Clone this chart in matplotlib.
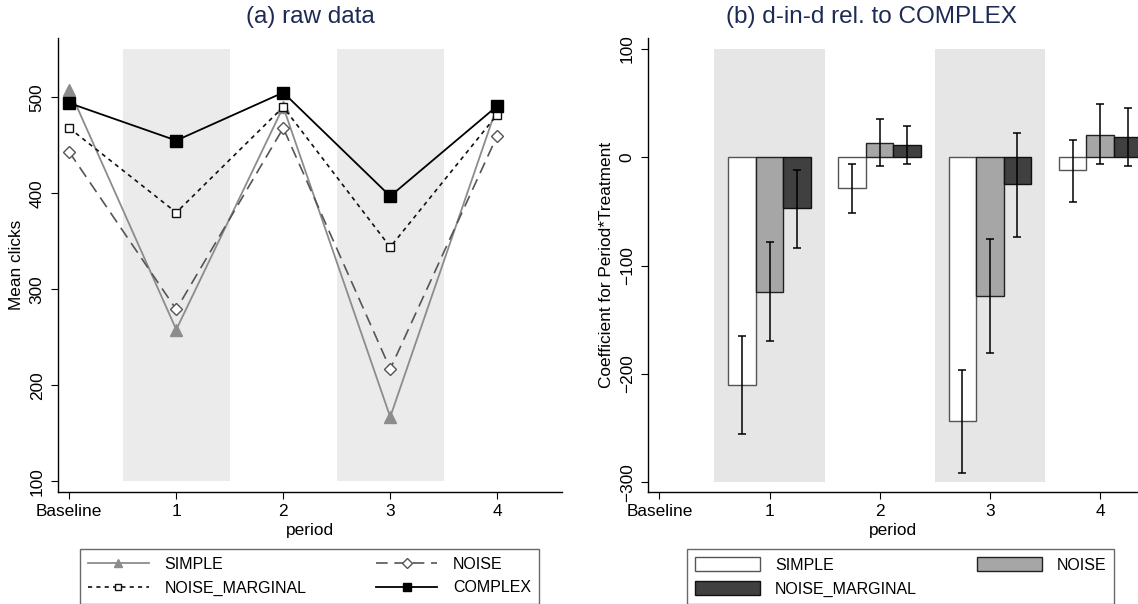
import numpy as np
import matplotlib
matplotlib.use("Agg")
import matplotlib.pyplot as plt

plt.rcParams['font.family'] = ['Liberation Sans', 'DejaVu Sans']

# x positions: 0 = Baseline, 1..4 = periods
periods = [0, 1, 2, 3, 4]
tick_labels = ['Baseline', '1', '2', '3', '4']
shade_periods = [1, 3]

# (a) raw data: mean clicks per period
simple_raw = [508, 258, 490, 167, 491]
noise_raw = [443, 279, 468, 217, 460]
noise_marg_raw = [468, 380, 490, 344, 482]
complex_raw = [494, 455, 505, 397, 491]

# (b) diff-in-diff coefficients relative to COMPLEX (periods 1..4)
dd_periods = [1, 2, 3, 4]
simple_coef = [-210, -28, -243, -12]
simple_lo = [-255, -51, -291, -41]
simple_hi = [-165, -6, -196, 16]
noise_coef = [-124, 13, -128, 21]
noise_lo = [-170, -8, -181, -6]
noise_hi = [-78, 35, -75, 49]
nm_coef = [-47, 11, -25, 18.5]
nm_lo = [-84, -6.5, -73.5, -7.7]
nm_hi = [-12, 29, 22.5, 46]

title_col = '#1c2a55'
fs = 12.4

fig = plt.figure(figsize=(11.38, 6.04), dpi=100)
ax1 = fig.add_axes([0.0512, 0.1849, 0.4426, 0.7517])
ax2 = fig.add_axes([0.5697, 0.1849, 0.4303, 0.7517])

for ax in (ax1, ax2):
    ax.spines['top'].set_visible(False)
    ax.spines['right'].set_visible(False)
    ax.spines['left'].set_linewidth(1.0)
    ax.spines['bottom'].set_linewidth(1.0)
    ax.tick_params(direction='out', length=4.8, width=0.8, labelsize=fs)
    ax.tick_params(axis='y', labelrotation=90, pad=5)
    ax.set_xticks(periods)
    ax.set_xticklabels(tick_labels)
    ax.set_xlabel('period', fontsize=fs, labelpad=3)

# ---- (a) raw data ----
ax1.bar(shade_periods, 450, bottom=100, width=1.0, color='#ebebeb', zorder=0)
ax1.plot(periods, simple_raw, color='#8c8c8c', lw=1.3, marker='^', ms=8,
         mfc='#8c8c8c', mec='#8c8c8c', label='SIMPLE', zorder=3)
ax1.plot(periods, noise_raw, color='#555555', lw=1.2, ls=(0, (7, 4)), marker='D', ms=6.5,
         mfc='white', mec='#555555', mew=1.0, label='NOISE', zorder=3)
ax1.plot(periods, noise_marg_raw, color='#111111', lw=1.2, ls=(0, (2.5, 2.5)), marker='s', ms=6,
         mfc='white', mec='#111111', mew=1.0, label='NOISE_MARGINAL', zorder=3)
ax1.plot(periods, complex_raw, color='black', lw=1.3, marker='s', ms=8,
         mfc='black', mec='black', label='COMPLEX', zorder=4)
ax1.set_xlim(-0.103, 4.605)
ax1.set_ylim(88.5, 561.5)
ax1.set_yticks([100, 200, 300, 400, 500])
ax1.set_ylabel('Mean clicks', fontsize=fs, labelpad=4)
for lab in ax1.get_yticklabels():
    lab.set_va('center')

h, l = ax1.get_legend_handles_labels()
order = [0, 2, 1, 3]
leg1 = fig.legend([h[i] for i in order], [l[i] for i in order], ncol=2,
                  loc='upper left', bbox_to_anchor=(80 / 1138, 0.0906, 459 / 1138, 0.001),
                  mode='expand', fontsize=11.5, frameon=True, fancybox=False,
                  edgecolor='#444444', handlelength=3.8, labelspacing=0.55,
                  borderpad=0.5, handletextpad=1.0, borderaxespad=0, markerscale=0.8)
leg1.get_frame().set_linewidth(1.0)

# ---- (b) d-in-d ----
w = 0.25
dd = np.array(dd_periods)
ax2.bar(shade_periods, 400, bottom=-300, width=1.0, color='#e6e6e6', zorder=0)
ax2.bar(dd - w, simple_coef, width=w, color='white', edgecolor='#555555', lw=1.0,
        label='SIMPLE', zorder=2)
ax2.bar(dd, noise_coef, width=w, color='#a6a6a6', edgecolor='#222222', lw=1.0,
        label='NOISE', zorder=2)
ax2.bar(dd + w, nm_coef, width=w, color='#404040', edgecolor='#111111', lw=1.0,
        label='NOISE_MARGINAL', zorder=2)
for off, coef, lo, hi in [(-w, simple_coef, simple_lo, simple_hi),
                          (0, noise_coef, noise_lo, noise_hi),
                          (w, nm_coef, nm_lo, nm_hi)]:
    c = np.array(coef)
    err = [c - np.array(lo), np.array(hi) - c]
    ax2.errorbar(dd + off, c, yerr=err, fmt='none', ecolor='black', elinewidth=1.1,
                 capsize=2.9, capthick=1.1, zorder=3)
ax2.set_xlim(-0.0998, 4.344)
ax2.set_ylim(-309.3, 109.9)
ax2.set_yticks([-300, -200, -100, 0, 100])
ax2.set_ylabel('Coefficient for Period*Treatment', fontsize=fs, labelpad=4)
for lab in ax2.get_yticklabels():
    lab.set_va('center')

h2, l2 = ax2.get_legend_handles_labels()
order2 = [0, 2, 1]
leg2 = fig.legend([h2[i] for i in order2], [l2[i] for i in order2], ncol=2,
                  loc='upper left', bbox_to_anchor=(687 / 1138, 0.0906, 427 / 1138, 0.001),
                  mode='expand', fontsize=11.5, frameon=True, fancybox=False,
                  edgecolor='#444444', handlelength=4.1, handleheight=1.05,
                  labelspacing=0.5, borderpad=0.5, handletextpad=0.9, borderaxespad=0)
leg2.get_frame().set_linewidth(1.0)

fig.text(310 / 1138, 1 - 17 / 604, '(a) raw data', ha='center', va='center',
         fontsize=17.5, color=title_col)
fig.text(871 / 1138, 1 - 17 / 604, '(b) d-in-d rel. to COMPLEX', ha='center', va='center',
         fontsize=17.5, color=title_col)

fig.savefig('out.png', dpi=100)
